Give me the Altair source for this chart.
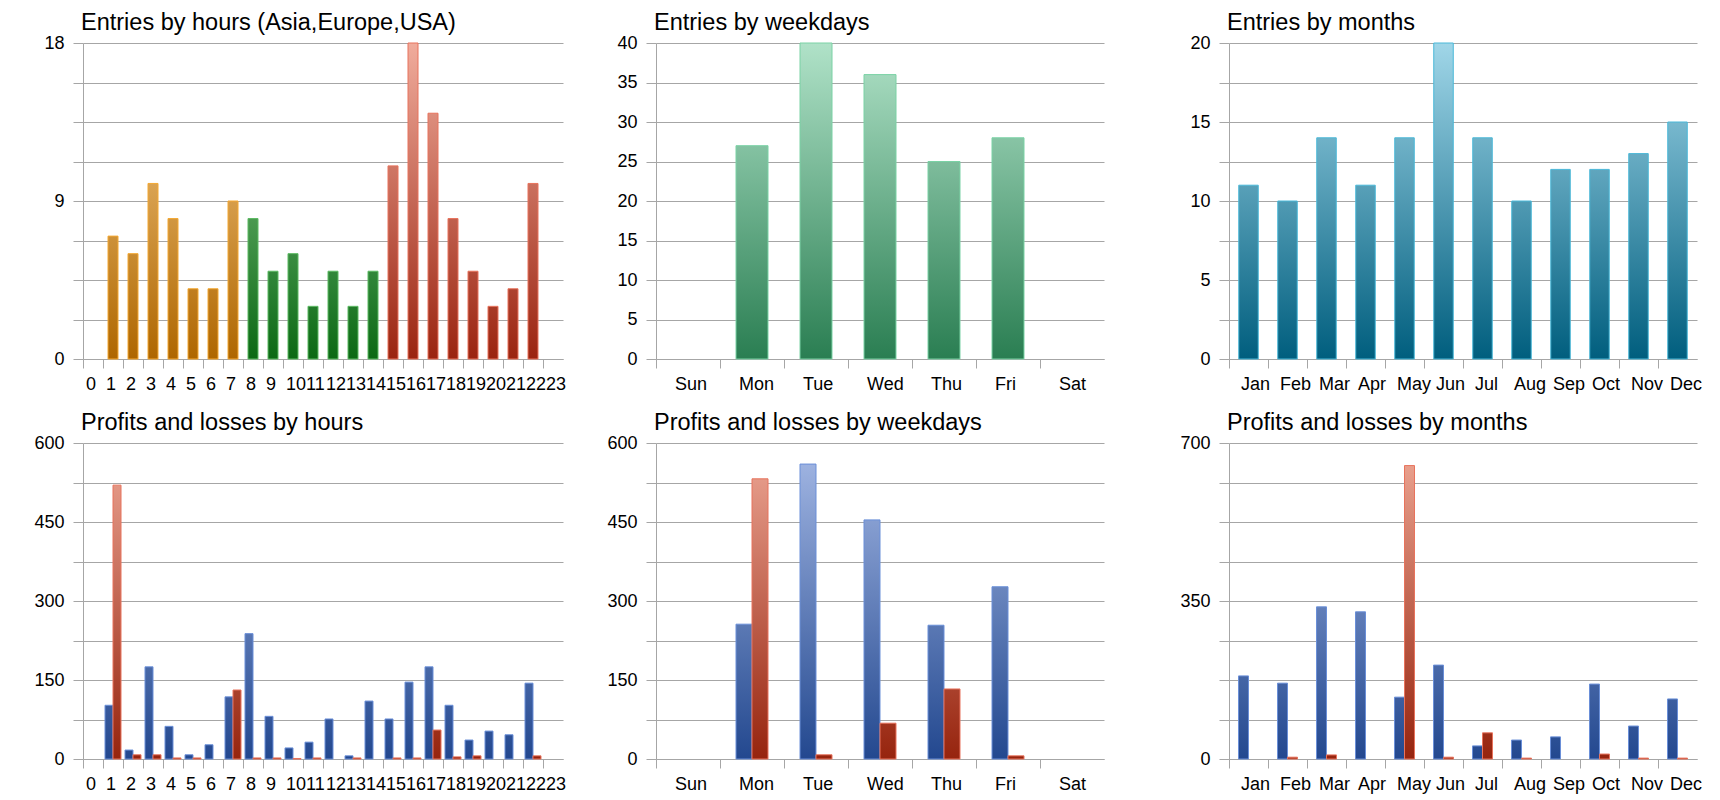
import altair as alt
import pandas as pd

# ---------------- data ----------------
hours = [str(h) for h in range(24)]
hour_entries = [0, 7, 6, 10, 8, 4, 4, 9, 8, 5, 6, 3, 5, 3, 5, 11, 18, 14, 8, 5, 3, 4, 10, 0]
hour_session = ["Asia"] * 8 + ["Europe"] * 7 + ["USA"] * 9

weekdays = ["Sun", "Mon", "Tue", "Wed", "Thu", "Fri", "Sat"]
weekday_entries = [0, 27, 40, 36, 25, 28, 0]

months = ["Jan", "Feb", "Mar", "Apr", "May", "Jun", "Jul", "Aug", "Sep", "Oct", "Nov", "Dec"]
month_entries = [11, 10, 14, 11, 14, 20, 14, 10, 12, 12, 13, 15]

hour_profits = [0, 102, 17, 175, 62, 8, 27, 118, 238, 81, 21, 32, 76, 6, 110, 76, 146, 175, 102, 36, 53, 46, 144, 0]
hour_losses = [0, 520, 8, 8, 2, 2, 0, 131, 2, 2, 1, 2, 0, 2, 0, 2, 2, 55, 4, 6, 0, 0, 6, 0]

weekday_profits = [0, 256, 560, 454, 254, 327, 0]
weekday_losses = [0, 532, 8, 68, 133, 6, 0]

month_profits = [184, 168, 337, 326, 137, 208, 29, 42, 49, 166, 73, 133]
month_losses = [0, 4, 9, 0, 650, 4, 58, 2, 0, 11, 2, 2]

# ---------------- styles ----------------
FONT = "Liberation Sans"
GRID = "#a6a6a6"
# palette: bottom colour, colour at the top of the value axis, outline colour
PAL = {
    "Asia": ((174, 102, 0), (253, 212, 147), "#f4a832"),
    "Europe": ((11, 104, 20), (153, 214, 155), "#5cba62"),
    "USA": ((154, 36, 16), (240, 172, 156), "#e8735c"),
    "week": ((42, 126, 82), (176, 226, 200), "#7ad2a5"),
    "month": ((0, 94, 126), (160, 214, 232), "#4ab8d8"),
    "P": ((35, 72, 143), (166, 186, 230), "#6a8fd8"),
    "L": ((150, 36, 14), (238, 168, 150), "#e8735c"),
}


def mix(c0, c1, t):
    return "#%02x%02x%02x" % tuple(int(round(a + (b - a) * t)) for a, b in zip(c0, c1))


def gradient(pal, frac):
    b, t, _ = PAL[pal]
    return alt.Gradient(
        gradient="linear", x1=0, x2=0, y1=1, y2=0,
        stops=[alt.GradientStop(offset=0, color=mix(b, t, 0)),
               alt.GradientStop(offset=1, color=mix(b, t, frac))],
    )


def panel(title, cats, recs, ymax, nsteps, lab_every, width, plot_w, lab_dx, bar_w=None):
    df = pd.DataFrame(recs, columns=["cat", "s", "v", "pal"])
    df["i"] = range(len(df))
    step = ymax / nsteps
    ticks = [step * k for k in range(nsteps + 1)]
    xaxis = alt.Axis(
        title=None, bandPosition=0, labelAlign="left", labelOffset=lab_dx, labelAngle=0,
        labelOverlap=False, grid=False, domain=True, domainColor=GRID, tickColor=GRID,
        tickSize=9, labelPadding=7, labelFont=FONT, labelFontSize=18, labelColor="black",
        labelBaseline="top",
    )
    yaxis = alt.Axis(
        title=None, values=ticks,
        labelExpr=f"datum.value % {lab_every} == 0 ? format(datum.value, 'd') : ''",
        grid=True, gridColor=GRID, gridWidth=1, domain=True, domainColor=GRID, tickColor=GRID,
        tickSize=10, labelPadding=9, labelFont=FONT, labelFontSize=18, labelColor="black",
        labelOverlap=False,
    )
    x = alt.X("cat:N", sort=cats,
              scale=alt.Scale(domain=cats, paddingInner=0, paddingOuter=0, range=[0, plot_w]),
              axis=xaxis)
    y = alt.Y("v:Q", scale=alt.Scale(domain=[0, ymax], nice=False), axis=yaxis)
    layers = []
    for r in df.itertuples():
        if r.v <= 0:
            continue
        mk = dict(fill=gradient(r.pal, r.v / ymax), stroke=PAL[r.pal][2], strokeWidth=1)
        if bar_w is None:
            mk["width"] = alt.RelativeBandSize(band=0.5)
        else:
            mk["width"] = bar_w
            mk["xOffset"] = -bar_w / 2 if r.s == "P" else bar_w / 2
        layers.append(alt.Chart().transform_filter(alt.datum.i == int(r.i)).mark_bar(**mk).encode(x=x, y=y))
    return alt.layer(*layers, data=df).properties(
        width=width, height=316,
        title=alt.TitleParams(text=title, anchor="start", frame="group", font=FONT, fontSize=23.5,
                              fontWeight="normal", color="black", dx=-2, offset=-19, baseline="alphabetic"),
    )


p1 = panel("Entries by hours (Asia,Europe,USA)", hours,
           [(h, "E", v, s) for h, v, s in zip(hours, hour_entries, hour_session)],
           18, 8, 9, 480, 480, -7)
p2 = panel("Entries by weekdays", weekdays,
           [(d, "E", v, "week") for d, v in zip(weekdays, weekday_entries)],
           40, 8, 5, 480, 448, -13)
p3 = panel("Entries by months", months,
           [(m, "E", v, "month") for m, v in zip(months, month_entries)],
           20, 8, 5, 468, 468, -7.5)


def pl(cats, prof, loss):
    out = []
    for c, p, l in zip(cats, prof, loss):
        out.append((c, "P", p, "P"))
        out.append((c, "L", l, "L"))
    return out


p4 = panel("Profits and losses by hours", hours, pl(hours, hour_profits, hour_losses),
           600, 8, 150, 480, 480, -7, bar_w=8)
p5 = panel("Profits and losses by weekdays", weekdays, pl(weekdays, weekday_profits, weekday_losses),
           600, 8, 150, 480, 448, -13, bar_w=16)
p6 = panel("Profits and losses by months", months, pl(months, month_profits, month_losses),
           700, 8, 350, 468, 468, -7.5, bar_w=10)

chart = (
    alt.concat(p1, p2, p3, p4, p5, p6, columns=3, spacing={"row": 84, "column": 93}, bounds="flush")
    .properties(padding={"left": 25, "top": 2, "right": 5, "bottom": 5}, background="white")
    .configure_view(stroke="transparent")
)

chart.save("out.html", embed_options={"renderer": "svg", "actions": False})
